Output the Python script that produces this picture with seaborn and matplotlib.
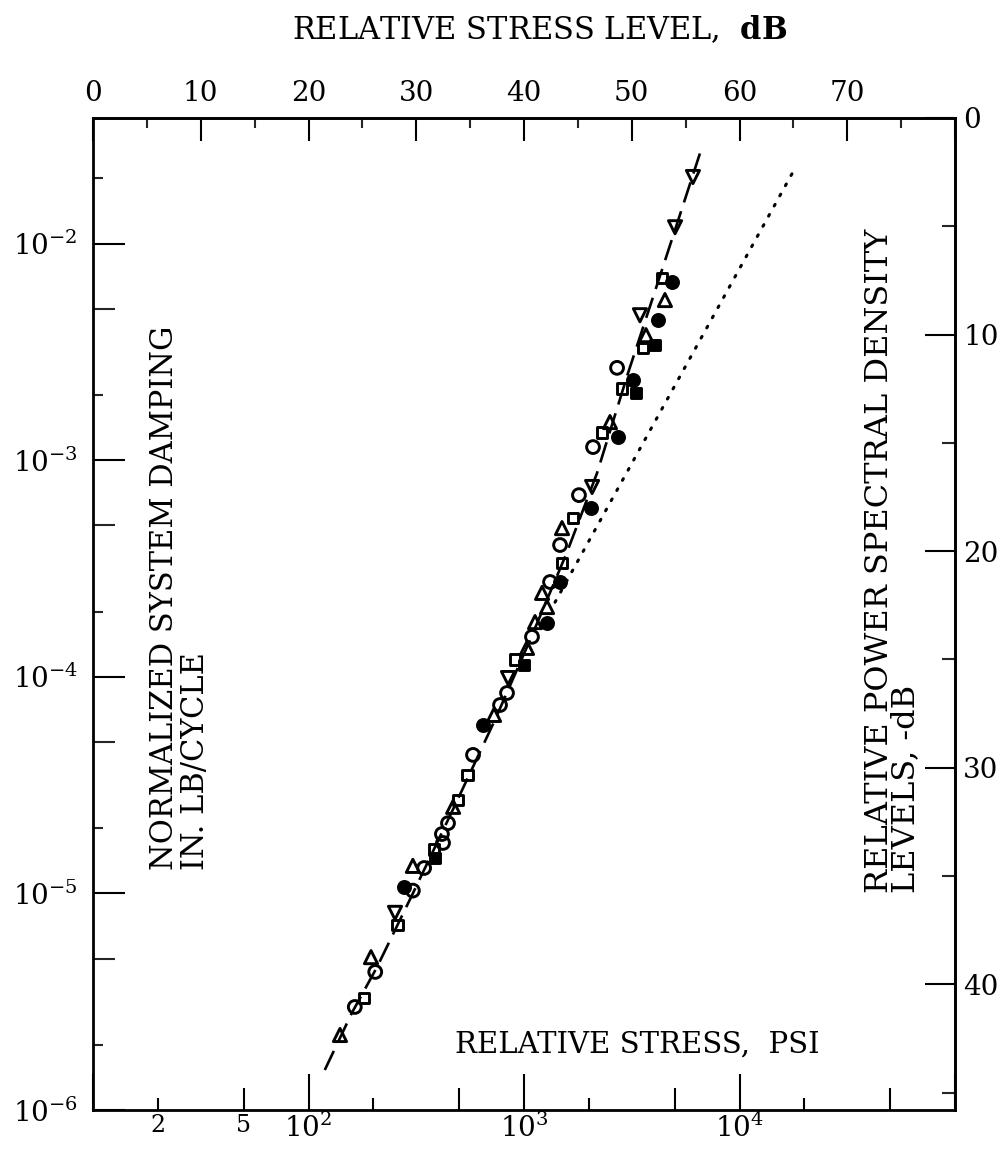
import numpy as np
import pandas as pd
import matplotlib
matplotlib.use("Agg")
import matplotlib.pyplot as plt
import seaborn as sns
from matplotlib.ticker import FixedLocator, FixedFormatter, NullLocator, NullFormatter

sns.set_theme(style="white")
plt.rcParams['font.family'] = ['DejaVu Serif']
plt.rcParams['mathtext.fontset'] = 'dejavuserif'

# ---------------- data ----------------
# symbol codes: o open circle, c filled circle, s open square,
#               S filled square, ^ open triangle, v open inverted triangle
stress_psi = [140, 164, 181, 204, 195, 258, 252, 277, 305, 305,
              344, 386, 382, 421, 416, 444, 469, 494, 545, 580,
              645, 726, 774, 834, 843, 908, 1000, 1033, 1089, 1125,
              1279, 1279, 1213, 1321, 1470, 1501, 1470, 1501, 1687, 1799,
              2046, 2070, 2091, 2301, 2730, 2506, 3311, 2853, 3206, 2703,
              3565, 4055, 3683, 4188, 3451, 4508, 4365, 4864, 5023, 6081]
damping = [2.22e-6, 2.99e-6, 3.29e-6, 4.34e-6, 5.08e-6, 7.14e-6, 8.13e-6, 1.07e-5, 1.03e-5, 1.34e-5,
           1.31e-5, 1.46e-5, 1.60e-5, 1.71e-5, 1.88e-5, 2.11e-5, 2.51e-5, 2.70e-5, 3.52e-5, 4.36e-5,
           6.00e-5, 6.67e-5, 7.41e-5, 8.42e-5, 9.87e-5, 1.20e-4, 1.13e-4, 1.36e-4, 1.53e-4, 1.79e-4,
           1.77e-4, 2.10e-4, 2.44e-4, 2.74e-4, 2.74e-4, 3.35e-4, 4.06e-4, 4.86e-4, 5.41e-4, 6.90e-4,
           6.01e-4, 7.52e-4, 1.15e-3, 1.34e-3, 1.28e-3, 1.50e-3, 2.04e-3, 2.15e-3, 2.34e-3, 2.67e-3,
           3.30e-3, 3.40e-3, 3.78e-3, 4.43e-3, 4.67e-3, 5.49e-3, 6.94e-3, 6.65e-3, 1.19e-2, 2.03e-2]
symbol = ['^', 'o', 's', 'o', '^', 's', 'v', 'c', 'o', '^',
          'o', 'S', 's', 'o', 'o', 'o', '^', 's', 's', 'o',
          'c', '^', 'o', 'o', 'v', 's', 'S', '^', 'o', '^',
          'c', '^', '^', 'o', 'c', 's', 'o', '^', 's', 'o',
          'c', 'v', 'o', 's', 'c', '^', 'S', 's', 'c', 'o',
          's', 'S', '^', 'c', 'v', '^', 's', 'c', 'v', 'v']

# dashed fitted curve
curve_stress = [119, 159, 208, 305, 479, 733, 1067, 1585, 2183, 3041, 4365, 6698]
curve_damping = [1.53e-6, 2.81e-6, 4.57e-6, 1.00e-5, 2.56e-5, 6.32e-5, 1.48e-4,
                 3.77e-4, 8.73e-4, 2.53e-3, 7.55e-3, 2.79e-2]

# dotted straight-line extension
dotted_stress = [1393, 17700]
dotted_damping = [2.21e-4, 2.14e-2]

# axes
x_min, x_max = 10, 1e5
y_min, y_top = 1e-6, 10 ** -1.42
x_major = [1e1, 1e2, 1e3, 1e4, 1e5]
x_major_labels = ['', '$10^2$', '$10^3$', '$10^4$', '']
x_minor2 = [20, 200, 2000, 20000]
x_minor2_labels = ['2', '', '', '']
x_minor5 = [50, 500, 5000, 50000]
x_minor5_labels = ['5', '', '', '']
y_major = [1e-6, 1e-5, 1e-4, 1e-3, 1e-2]
y_major_labels = ['$10^{-6}$', '$10^{-5}$', '$10^{-4}$', '$10^{-3}$', '$10^{-2}$']
y_minor2 = [2e-6, 2e-5, 2e-4, 2e-3, 2e-2]
y_minor5 = [5e-6, 5e-5, 5e-4, 5e-3]
top_db_major = [0, 10, 20, 30, 40, 50, 60, 70, 80]
top_db_labels = ['0', '10', '20', '30', '40', '50', '60', '70', '']
top_db_minor = [5, 15, 25, 35, 45, 55, 65, 75]
right_db_major = [0, 10, 20, 30, 40]
right_db_labels = ['0', '10', '20', '30', '40']
right_db_minor = [5, 15, 25, 35, 45]

# ---------------- figure ----------------
W, H = 1001, 1151
fig = plt.figure(figsize=(W / 100, H / 100), dpi=100)
L, R, T, B = 93, 955, 118, 1110
ax = fig.add_axes([L / W, 1 - B / H, (R - L) / W, (B - T) / H])
ax.set_xscale('log')
ax.set_yscale('log')
ax.set_xlim(x_min, x_max)
ax.set_ylim(y_min, y_top)
ax.set_facecolor('white')

df = pd.DataFrame({'stress': stress_psi, 'damping': damping, 'symbol': symbol})
style_map = {
    'o': ('o', 'none', 85),
    'c': ('o', 'black', 75),
    's': ('s', 'none', 60),
    'S': ('s', 'black', 50),
    '^': ('^', 'none', 90),
    'v': ('v', 'none', 90),
}

sns.lineplot(x=curve_stress, y=curve_damping, sort=False, estimator=None, ax=ax,
             color='black', linewidth=1.9, linestyle=(0, (8, 3.5)), zorder=2)
sns.lineplot(x=dotted_stress, y=dotted_damping, sort=False, estimator=None, ax=ax,
             color='black', linewidth=2.2, linestyle=(0, (0.6, 3.2)),
             dash_capstyle='round', zorder=2)

for code, (m, fc, s) in style_map.items():
    sub = df[df['symbol'] == code]
    sns.scatterplot(data=sub, x='stress', y='damping', marker=m, s=s,
                    facecolors=fc, edgecolors='black', linewidth=2.1,
                    ax=ax, legend=False, zorder=3)

ax.set_xlabel('')
ax.set_ylabel('')
ax.grid(False)
for sp in ax.spines.values():
    sp.set_color('black')
    sp.set_linewidth(2.0)

TL = 20  # tick label size
# bottom axis: decades + 2x minor
ax.xaxis.set_major_locator(FixedLocator(x_major))
ax.xaxis.set_major_formatter(FixedFormatter(x_major_labels))
ax.xaxis.set_minor_locator(FixedLocator(x_minor2))
ax.xaxis.set_minor_formatter(FixedFormatter(x_minor2_labels))
ax.tick_params(axis='x', which='major', direction='in', length=26, width=1.5,
               labelsize=TL, pad=3, bottom=True, top=False, colors='black')
ax.tick_params(axis='x', which='minor', direction='in', length=8.5, width=1.5,
               labelsize=17, pad=3, bottom=True, top=False, colors='black')
# left axis
ax.yaxis.set_major_locator(FixedLocator(y_major))
ax.yaxis.set_major_formatter(FixedFormatter(y_major_labels))
ax.yaxis.set_minor_locator(FixedLocator(y_minor2))
ax.yaxis.set_minor_formatter(NullFormatter())
ax.tick_params(axis='y', which='major', direction='in', length=23, width=1.5,
               labelsize=TL, pad=11, left=True, right=False, colors='black')
ax.tick_params(axis='y', which='minor', direction='in', length=7, width=1.5,
               left=True, right=False)

# bottom 5x ticks (medium length)
sb = ax.secondary_xaxis('bottom')
sb.xaxis.set_major_locator(FixedLocator(x_minor5))
sb.xaxis.set_major_formatter(FixedFormatter(x_minor5_labels))
sb.xaxis.set_minor_locator(NullLocator())
sb.xaxis.set_minor_formatter(NullFormatter())
sb.tick_params(axis='x', which='major', direction='in', length=16, width=1.5,
               labelsize=17, pad=3, colors='black')
sb.spines['bottom'].set_visible(False)

# left 5x ticks (medium length)
sl = ax.secondary_yaxis('left')
sl.yaxis.set_major_locator(FixedLocator(y_minor5))
sl.yaxis.set_major_formatter(NullFormatter())
sl.yaxis.set_minor_locator(NullLocator())
sl.yaxis.set_minor_formatter(NullFormatter())
sl.tick_params(axis='y', which='major', direction='in', length=16, width=1.5)
sl.spines['left'].set_visible(False)

# top axis: relative stress level, dB
st = ax.secondary_xaxis('top', functions=(lambda x: 20 * np.log10(x / x_min),
                                          lambda d: x_min * 10 ** (d / 20)))
st.xaxis.set_major_locator(FixedLocator(top_db_major))
st.xaxis.set_major_formatter(FixedFormatter(top_db_labels))
st.xaxis.set_minor_locator(FixedLocator(top_db_minor))
st.xaxis.set_minor_formatter(NullFormatter())
st.tick_params(axis='x', which='major', direction='in', length=16.5, width=1.5,
               labelsize=TL, pad=8, colors='black')
st.tick_params(axis='x', which='minor', direction='in', length=7, width=1.5)
st.spines['top'].set_linewidth(2.0)

# right axis: relative power spectral density level, -dB
sr = ax.secondary_yaxis('right', functions=(lambda y: 10 * np.log10(y_top / y),
                                            lambda d: y_top * 10 ** (-d / 10)))
sr.yaxis.set_major_locator(FixedLocator(right_db_major))
sr.yaxis.set_major_formatter(FixedFormatter(right_db_labels))
sr.yaxis.set_minor_locator(FixedLocator(right_db_minor))
sr.yaxis.set_minor_formatter(NullFormatter())
sr.tick_params(axis='y', which='major', direction='in', length=21.5, width=1.5,
               labelsize=TL, pad=6, colors='black')
sr.tick_params(axis='y', which='minor', direction='in', length=9.5, width=1.5)
sr.spines['right'].set_linewidth(2.0)

# ---------------- texts ----------------
fig.text(540 / W, 1 - 30 / H, r'RELATIVE STRESS LEVEL,  $\mathbf{dB}$',
         ha='center', va='center', fontsize=22, color='black')
fig.text(637 / W, 1 - 1045 / H, 'RELATIVE STRESS,  PSI',
         ha='center', va='center', fontsize=21, color='black')
fig.text(180 / W, 1 - 870 / H, 'NORMALIZED SYSTEM DAMPING\nIN. LB/CYCLE',
         rotation=90, ha='center', va='bottom', multialignment='left',
         fontsize=22, linespacing=1.0, color='black')
fig.text(893 / W, 1 - 893 / H, 'RELATIVE POWER SPECTRAL DENSITY\nLEVELS, -dB',
         rotation=90, ha='center', va='bottom', multialignment='left',
         fontsize=23, linespacing=0.8, color='black')

fig.savefig('out.png', dpi=100, facecolor='white')
